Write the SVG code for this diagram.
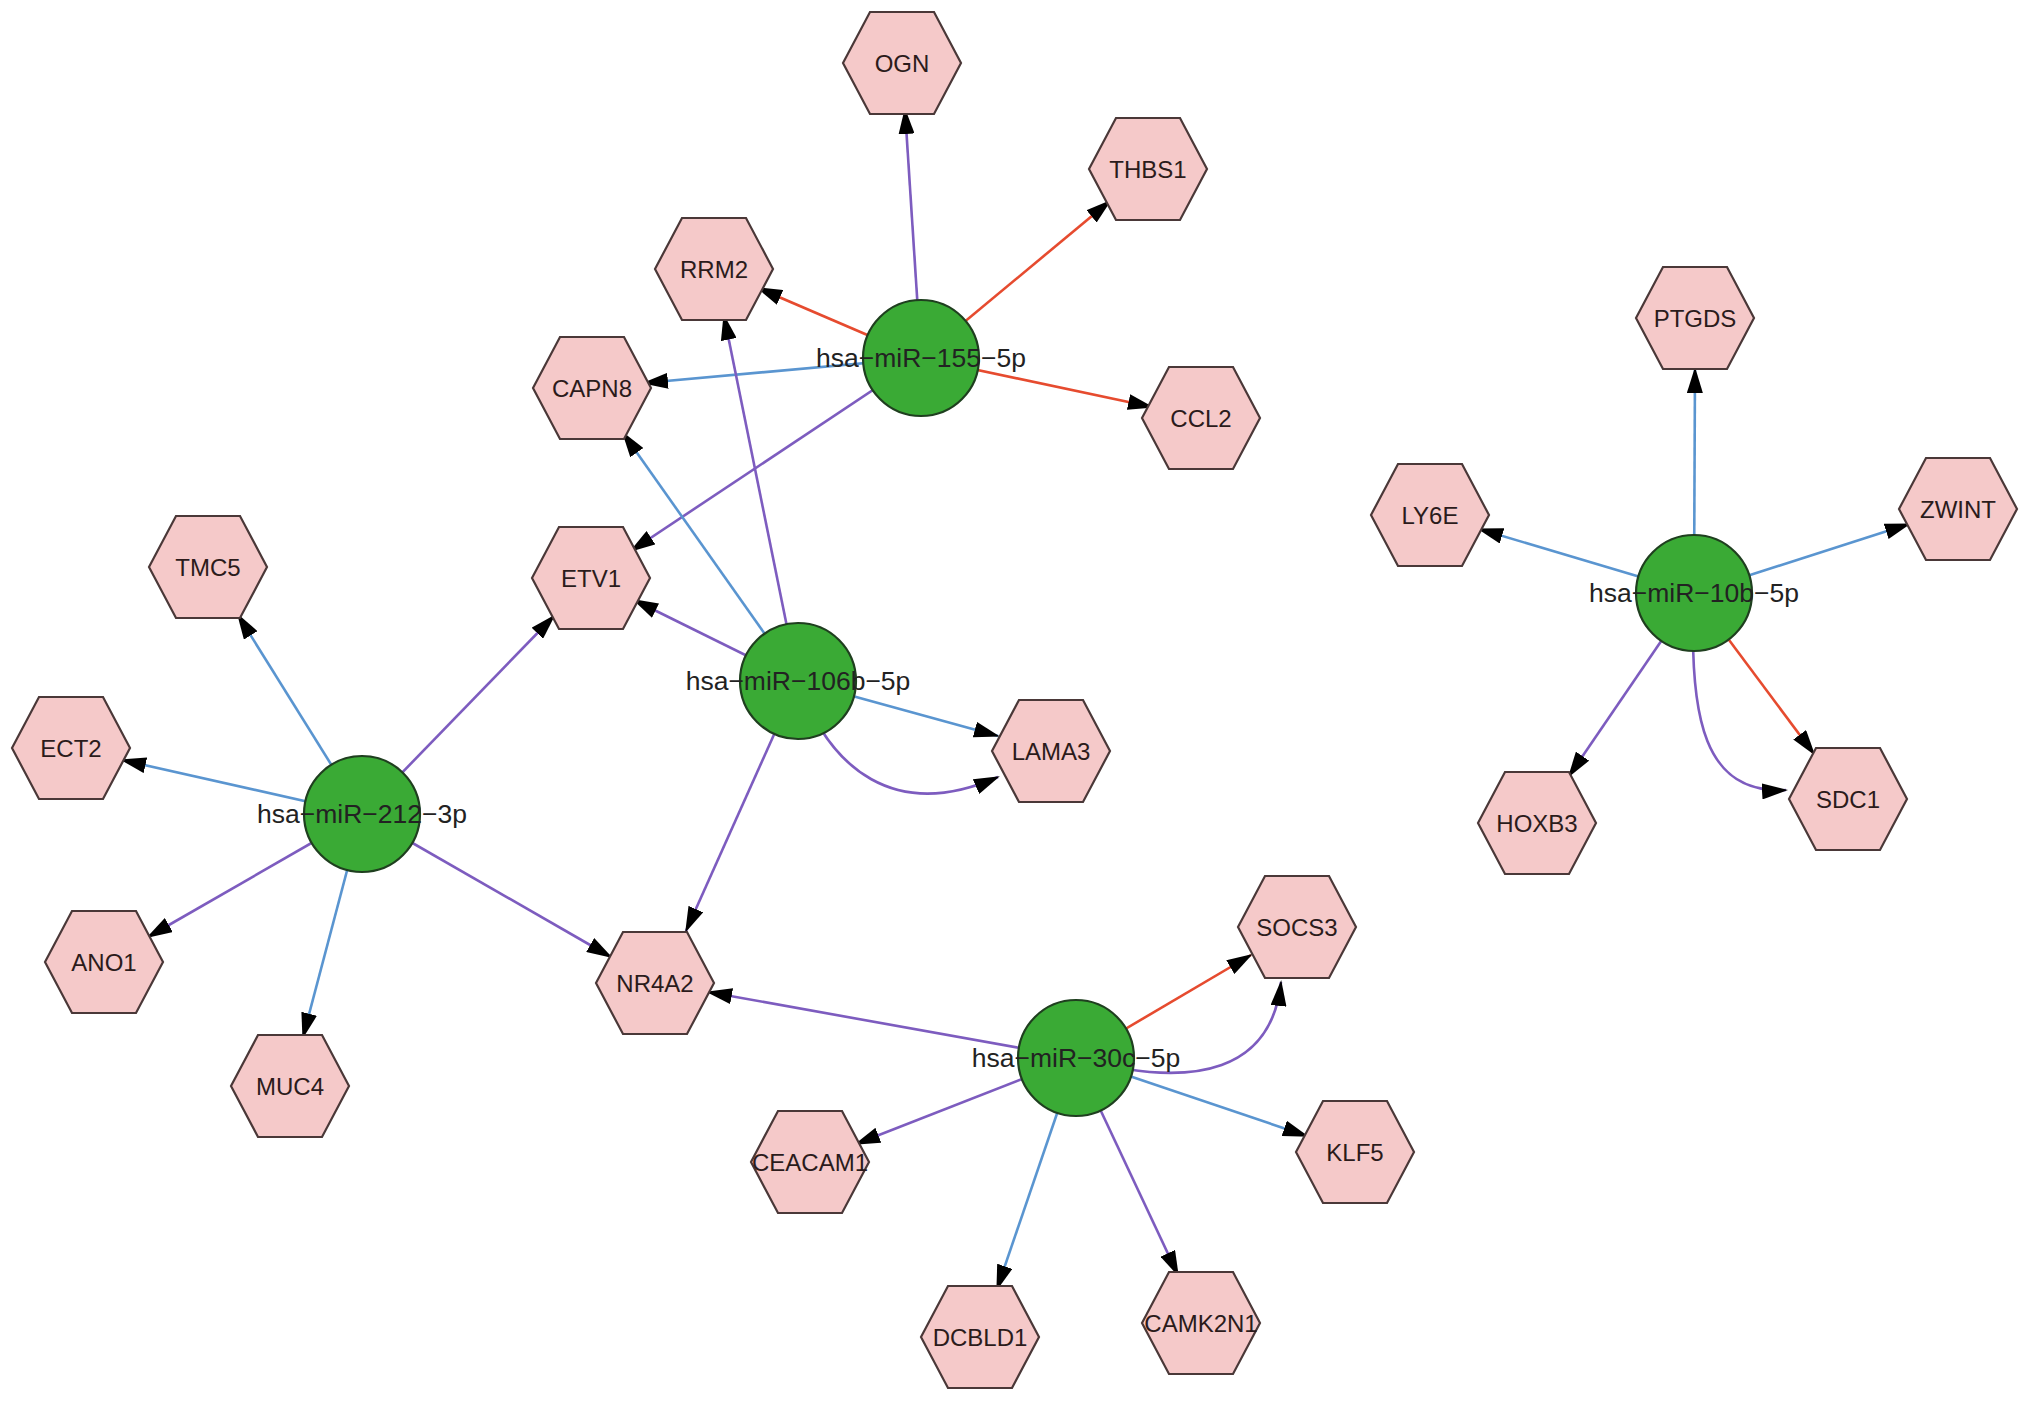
<svg xmlns="http://www.w3.org/2000/svg" xmlns:xlink="http://www.w3.org/1999/xlink" width="2031" height="1402" viewBox="0 0 2031 1402">
<style>
.bg{fill:#ffffff}
.e{fill:none;stroke-width:2.6;marker-end:url(#arr)}
.red{stroke:#e64b2f}
.blue{stroke:#5a95d0}
.pur{stroke:#7d5cbf}
.hex{fill:#f5c9c9;stroke:#4a3838;stroke-width:2.2}
.mir{fill:#3aaa35;stroke:#1f3f1f;stroke-width:2.2}
.gl{font-family:"Liberation Sans",Arial,sans-serif;font-size:24px;fill:#2b1b1b;text-anchor:middle}
.ml{font-family:"Liberation Sans",Arial,sans-serif;font-size:26.5px;fill:#222222;text-anchor:middle}
</style>
<defs>
<marker id="arr" markerUnits="userSpaceOnUse" viewBox="0 0 26 16" markerWidth="26" markerHeight="16" refX="24" refY="8" orient="auto">
<path d="M0,0 L26,8 L0,16 z" fill="#000000"/>
</marker>
<polygon id="hexshape" points="-59,0 -32,-51 32,-51 59,0 32,51 -32,51"/>
</defs>
<rect class="bg" x="0" y="0" width="2031" height="1402"/>
<g id="connectors">
<path class="e pur" d="M921,358 L905,110"/>
<path class="e red" d="M921,358 L1110,201"/>
<path class="e red" d="M921,358 L758,288"/>
<path class="e blue" d="M921,358 L644,383"/>
<path class="e red" d="M921,358 L1152,407"/>
<path class="e pur" d="M921,358 L631,551"/>
<path class="e pur" d="M798,681 L724,316"/>
<path class="e blue" d="M798,681 L623,433"/>
<path class="e pur" d="M798,681 L634,600"/>
<path class="e blue" d="M798,681 L998,736"/>
<path class="e pur" d="M798,681 C830,770 895,822 998,777"/>
<path class="e pur" d="M798,681 L686,931"/>
<path class="e blue" d="M362,814 L238,615"/>
<path class="e blue" d="M362,814 L122,760"/>
<path class="e pur" d="M362,814 L148,937"/>
<path class="e blue" d="M362,814 L303,1037"/>
<path class="e pur" d="M362,814 L611,957"/>
<path class="e pur" d="M362,814 L554,616"/>
<path class="e blue" d="M1694,593 L1695,369"/>
<path class="e blue" d="M1694,593 L1479,529"/>
<path class="e blue" d="M1694,593 L1909,524"/>
<path class="e pur" d="M1694,593 L1569,776"/>
<path class="e red" d="M1694,593 L1814,754"/>
<path class="e pur" d="M1694,593 C1688,720 1705,795 1786,790"/>
<path class="e pur" d="M1076,1058 L708,992"/>
<path class="e red" d="M1076,1058 L1251,955"/>
<path class="e pur" d="M1076,1058 C1200,1092 1272,1068 1281,982"/>
<path class="e blue" d="M1076,1058 L1307,1136"/>
<path class="e pur" d="M1076,1058 L856,1144"/>
<path class="e blue" d="M1076,1058 L997,1289"/>
<path class="e pur" d="M1076,1058 L1178,1275"/>
</g>
<g id="node-OGN"><use class="hex" xlink:href="#hexshape" href="#hexshape" x="902" y="63"/><text class="gl" x="902" y="72">OGN</text></g>
<g id="node-THBS1"><use class="hex" xlink:href="#hexshape" href="#hexshape" x="1148" y="169"/><text class="gl" x="1148" y="178">THBS1</text></g>
<g id="node-RRM2"><use class="hex" xlink:href="#hexshape" href="#hexshape" x="714" y="269"/><text class="gl" x="714" y="278">RRM2</text></g>
<g id="node-CAPN8"><use class="hex" xlink:href="#hexshape" href="#hexshape" x="592" y="388"/><text class="gl" x="592" y="397">CAPN8</text></g>
<g id="node-CCL2"><use class="hex" xlink:href="#hexshape" href="#hexshape" x="1201" y="418"/><text class="gl" x="1201" y="427">CCL2</text></g>
<g id="node-PTGDS"><use class="hex" xlink:href="#hexshape" href="#hexshape" x="1695" y="318"/><text class="gl" x="1695" y="327">PTGDS</text></g>
<g id="node-LY6E"><use class="hex" xlink:href="#hexshape" href="#hexshape" x="1430" y="515"/><text class="gl" x="1430" y="524">LY6E</text></g>
<g id="node-ZWINT"><use class="hex" xlink:href="#hexshape" href="#hexshape" x="1958" y="509"/><text class="gl" x="1958" y="518">ZWINT</text></g>
<g id="node-TMC5"><use class="hex" xlink:href="#hexshape" href="#hexshape" x="208" y="567"/><text class="gl" x="208" y="576">TMC5</text></g>
<g id="node-ETV1"><use class="hex" xlink:href="#hexshape" href="#hexshape" x="591" y="578"/><text class="gl" x="591" y="587">ETV1</text></g>
<g id="node-ECT2"><use class="hex" xlink:href="#hexshape" href="#hexshape" x="71" y="748"/><text class="gl" x="71" y="757">ECT2</text></g>
<g id="node-LAMA3"><use class="hex" xlink:href="#hexshape" href="#hexshape" x="1051" y="751"/><text class="gl" x="1051" y="760">LAMA3</text></g>
<g id="node-HOXB3"><use class="hex" xlink:href="#hexshape" href="#hexshape" x="1537" y="823"/><text class="gl" x="1537" y="832">HOXB3</text></g>
<g id="node-SDC1"><use class="hex" xlink:href="#hexshape" href="#hexshape" x="1848" y="799"/><text class="gl" x="1848" y="808">SDC1</text></g>
<g id="node-ANO1"><use class="hex" xlink:href="#hexshape" href="#hexshape" x="104" y="962"/><text class="gl" x="104" y="971">ANO1</text></g>
<g id="node-NR4A2"><use class="hex" xlink:href="#hexshape" href="#hexshape" x="655" y="983"/><text class="gl" x="655" y="992">NR4A2</text></g>
<g id="node-SOCS3"><use class="hex" xlink:href="#hexshape" href="#hexshape" x="1297" y="927"/><text class="gl" x="1297" y="936">SOCS3</text></g>
<g id="node-MUC4"><use class="hex" xlink:href="#hexshape" href="#hexshape" x="290" y="1086"/><text class="gl" x="290" y="1095">MUC4</text></g>
<g id="node-CEACAM1"><use class="hex" xlink:href="#hexshape" href="#hexshape" x="810" y="1162"/><text class="gl" x="810" y="1171">CEACAM1</text></g>
<g id="node-KLF5"><use class="hex" xlink:href="#hexshape" href="#hexshape" x="1355" y="1152"/><text class="gl" x="1355" y="1161">KLF5</text></g>
<g id="node-DCBLD1"><use class="hex" xlink:href="#hexshape" href="#hexshape" x="980" y="1337"/><text class="gl" x="980" y="1346">DCBLD1</text></g>
<g id="node-CAMK2N1"><use class="hex" xlink:href="#hexshape" href="#hexshape" x="1201" y="1323"/><text class="gl" x="1201" y="1332">CAMK2N1</text></g>
<g id="node-miR-155-5p"><circle class="mir" cx="921" cy="358" r="58"/><text class="ml" x="921" y="367">hsa−miR−155−5p</text></g>
<g id="node-miR-106b-5p"><circle class="mir" cx="798" cy="681" r="58"/><text class="ml" x="798" y="690">hsa−miR−106b−5p</text></g>
<g id="node-miR-212-3p"><circle class="mir" cx="362" cy="814" r="58"/><text class="ml" x="362" y="823">hsa−miR−212−3p</text></g>
<g id="node-miR-10b-5p"><circle class="mir" cx="1694" cy="593" r="58"/><text class="ml" x="1694" y="602">hsa−miR−10b−5p</text></g>
<g id="node-miR-30c-5p"><circle class="mir" cx="1076" cy="1058" r="58"/><text class="ml" x="1076" y="1067">hsa−miR−30c−5p</text></g>
</svg>
